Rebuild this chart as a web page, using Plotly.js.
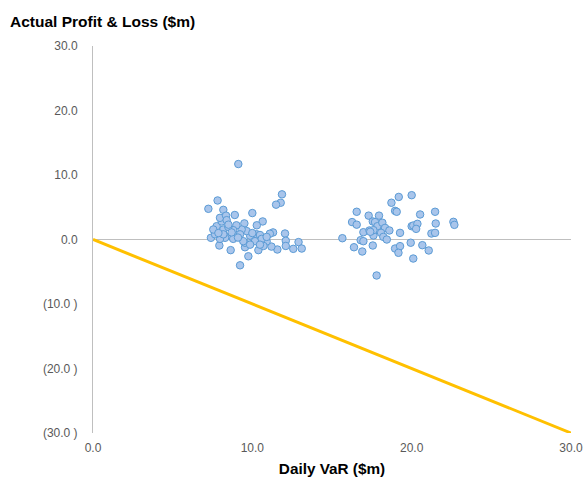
<!DOCTYPE html>
<html>
<head>
<meta charset="utf-8">
<script src="https://cdn.plot.ly/plotly-3.0.1.min.js"></script>
<style>html,body{margin:0;padding:0;background:#fff}#chart{width:585px;height:478px}</style>
</head>
<body>
<div id="chart"></div>
<script>
// Daily VaR ($m) vs Actual P&L ($m)
const varValues = [
  9.12, 7.24, 7.82, 8.18, 8.90, 10.00, 11.86, 11.78, 11.49, 10.65,
  10.28, 9.50, 9.23, 9.75, 8.64, 7.93, 7.40, 12.05, 12.10, 12.10,
  11.57, 11.20, 10.90, 11.30, 11.10, 10.38, 10.70, 12.57, 12.90, 13.10,
  9.54, 9.54, 10.06, 10.28, 10.48, 9.86, 9.65, 9.33, 9.00, 8.80,
  8.60, 8.29, 7.97, 7.66, 7.76, 8.08, 7.97, 8.35, 8.39, 8.18,
  8.18, 8.49, 8.80, 9.23, 10.17, 10.59, 10.90, 10.48, 9.86, 9.43,
  7.55, 7.87, 8.70, 9.10, 10.00, 8.50,
  15.65, 16.38, 16.90, 17.80, 16.26, 16.55, 16.55, 17.30, 17.95, 16.97,
  17.35, 17.56, 17.70, 17.85, 18.16, 18.33, 18.60, 18.08, 18.22, 18.44,
  17.60, 17.60, 16.80, 16.97, 17.56, 18.73, 19.19, 18.96, 19.06, 20.00,
  19.27, 18.96, 19.27, 19.17, 19.94, 20.10, 20.00, 20.10, 20.36, 20.28,
  20.53, 20.67, 21.07, 21.24, 21.47, 21.51, 21.47, 22.62, 22.68, 17.40
];
const pnlValues = [
  11.70, 4.76, 6.05, 4.60, 3.80, 4.10, 7.00, 5.70, 5.40, 2.80,
  2.20, 2.50, -4.00, -2.60, -1.65, -0.93, 0.26, 0.93, -0.20, -1.00,
  -1.55, -1.10, -0.30, 1.10, 0.90, -1.65, -1.00, -1.45, -0.40, -1.40,
  -1.20, -0.50, 0.10, 0.80, 0.70, 0.60, 1.30, 1.55, 2.20, 1.45,
  0.50, 0.26, 0.10, 0.80, 2.06, 2.80, 3.36, 3.70, 3.00, 1.55,
  0.80, 1.96, 0.10, 0.80, -0.26, 0.10, 0.40, -0.80, -0.80, -0.26,
  1.55, 1.00, 1.10, 0.30, 1.00, 2.30,
  0.20, -1.20, -1.86, -5.58, 2.70, 2.30, 4.30, 3.70, 3.70, 1.13,
  1.40, 2.80, 2.70, 2.06, 2.60, 1.80, 1.40, 1.03, 0.41, 0.00,
  0.62, 1.45, -0.10, -0.26, -0.93, 5.70, 6.60, 4.44, 4.30, 6.87,
  1.03, -1.40, -1.03, -2.06, -0.50, -2.95, 2.06, 2.17, 2.43, 1.65,
  3.88, -0.88, -1.70, 0.93, 1.03, 2.48, 4.30, 2.74, 2.27, 1.20
];
const lineX = [0, 30];
const lineY = [0, -30];
const yTickVals = [30, 20, 10, 0, -10, -20, -30];
const yTickText = ["30.0", "20.0", "10.0", "0.0", "(10.0 )", "(20.0 )", "(30.0 )"];
const xTickVals = [0, 10, 20, 30];
const xTickText = ["0.0", "10.0", "20.0", "30.0"];

const traces = [
  {
    x: lineX, y: lineY, type: 'scatter', mode: 'lines',
    line: {color: '#FFC000', width: 3}, hoverinfo: 'skip'
  },
  {
    x: varValues, y: pnlValues, type: 'scatter', mode: 'markers',
    marker: {size: 7.5, color: '#A9C5EB', line: {color: '#5B9BD5', width: 1}}
  }
];
const font = {family: 'Liberation Sans, Arial, sans-serif', size: 12, color: '#595959'};
const layout = {
  width: 585, height: 478,
  margin: {l: 93, r: 14, t: 46, b: 45},
  paper_bgcolor: '#fff', plot_bgcolor: '#fff',
  showlegend: false,
  font: font,
  title: {
    text: '<b>Actual Profit & Loss ($m)</b>',
    x: 10/585, xanchor: 'left', xref: 'container',
    y: 1 - 22/478, yanchor: 'middle', yref: 'container',
    font: {family: 'Liberation Sans, Arial, sans-serif', size: 15.5, color: '#000'}
  },
  xaxis: {
    range: [0, 30], tickvals: xTickVals, ticktext: xTickText,
    showgrid: false, zeroline: false, showline: false,
    ticks: '', ticklabelstandoff: 6,
    title: {text: '<b>Daily VaR ($m)</b>', standoff: 9,
      font: {family: 'Liberation Sans, Arial, sans-serif', size: 15.3, color: '#000'}},
    fixedrange: true
  },
  yaxis: {
    range: [-30, 30], tickvals: yTickVals, ticktext: yTickText,
    showgrid: false, zeroline: true, zerolinecolor: '#BFBFBF', zerolinewidth: 1,
    showline: true, linecolor: '#BFBFBF', linewidth: 1,
    ticks: '', ticklabelstandoff: 12,
    fixedrange: true
  }
};
Plotly.newPlot('chart', traces, layout, {displayModeBar: false, staticPlot: true});
</script>
</body>
</html>
